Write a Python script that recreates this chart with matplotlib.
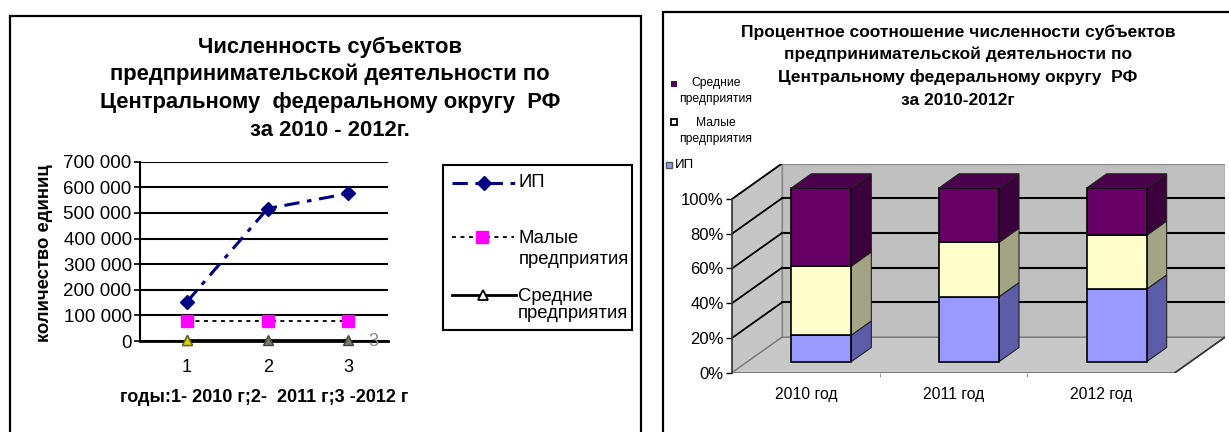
import matplotlib
matplotlib.use("Agg")
import matplotlib.pyplot as plt
from matplotlib.patches import Rectangle, Polygon

plt.rcParams['font.family'] = ['Liberation Sans', 'DejaVu Sans']

# ---- left chart data: counts of entities by year ----
year_idx = [1, 2, 3]
ip_counts = [152500, 517000, 576000]
small_counts = [77000, 77000, 77000]
medium_counts = [3000, 3000, 3000]
line_names = ['ИП', 'Малые\nпредприятия', 'Средние\nпредприятия']
count_ticks = [0, 100000, 200000, 300000, 400000, 500000, 600000, 700000]
count_tick_labels = ['0', '100 000', '200 000', '300 000', '400 000',
                     '500 000', '600 000', '700 000']

# ---- right chart data: percent shares ----
year_labels = ['2010 год', '2011 год', '2012 год']
ip_share = [15.3, 37.4, 41.8]
small_share = [39.7, 31.3, 31.0]
medium_share = [45.0, 31.3, 27.2]
share_names = ['ИП', 'Малые\nпредприятия', 'Средние\nпредприятия']
pct_ticks = [0, 20, 40, 60, 80, 100]
pct_tick_labels = ['0%', '20%', '40%', '60%', '80%', '100%']

left_title = ['Численность субъектов', 'предпринимательской деятельности по',
              'Центральному  федеральному округу  РФ', 'за 2010 - 2012г.']
right_title = ['Процентное соотношение численности субъектов',
               'предпринимательской деятельности по',
               'Центральному федеральному округу  РФ', 'за 2010-2012г']

W, H = 1229, 432
fig = plt.figure(figsize=(W / 100, H / 100), dpi=100)
fig.patch.set_facecolor('white')


def fx(x):
    return x / W


def fy(y):
    return 1 - y / H


# outer frames
fig.add_artist(Rectangle((fx(10), fy(445)), fx(641) - fx(10), fy(16) - fy(445),
                         transform=fig.transFigure, fill=False, lw=1.6, ec='black'))
fig.add_artist(Rectangle((fx(663), fy(445)), fx(1240) - fx(663), fy(12) - fy(445),
                         transform=fig.transFigure, fill=False, lw=1.6, ec='black'))

# ================= left chart =================
ax1 = fig.add_axes([fx(140), fy(341), (388 - 140) / W, (341 - 161.7) / H])
ax1.set_xlim(0.42, 3.49)
ax1.set_ylim(0, 700000)
ax1.set_yticks(count_ticks)
ax1.set_yticklabels(count_tick_labels)
ax1.set_xticks(year_idx)
ax1.set_xticklabels([str(i) for i in year_idx])
ax1.yaxis.grid(True, color='black', lw=1.5)
ax1.set_axisbelow(True)
for s in ['top', 'right']:
    ax1.spines[s].set_visible(False)
ax1.spines['left'].set_linewidth(1.5)
ax1.spines['bottom'].set_linewidth(2)
ax1.tick_params(axis='y', length=4, width=1.2, labelsize=13.5, pad=2)
ax1.tick_params(axis='x', length=0, labelsize=13, pad=13)

ip_style = dict(color='#000080', ls=(0, (5, 2.5, 1.5, 2.5)), lw=2.2)
small_style = dict(color='black', ls=(0, (2.2, 2.5)), lw=1.3)
med_style = dict(color='black', ls='-', lw=2)

ax1.plot(year_idx, ip_counts, marker='D', ms=7, mfc='#000080', mec='#000080',
         clip_on=False, zorder=5, **ip_style)
ax1.plot(year_idx, small_counts, marker='s', ms=8, mfc='#ff00ff', mec='#ff00ff',
         clip_on=False, zorder=5, **small_style)
ax1.plot(year_idx, medium_counts, marker='^', ms=7, mfc='#7a7a6a', mec='#404040',
         clip_on=False, zorder=5, **med_style)
ax1.plot(year_idx[:1], medium_counts[:1], marker='^', ms=7, mfc='#d8d000',
         mec='#606020', ls='none', clip_on=False, zorder=6)
ax1.text(3.25, 0, '3', color='#8a8a8a', fontsize=13, va='center', ha='left')

for k, line in enumerate(left_title):
    fig.text(fx(330), fy(47 + 27.7 * k), line, ha='center', va='center',
             fontsize=15.8, fontweight='bold')
fig.text(fx(45), fy(253), 'количество единиц', rotation=90, ha='center', va='center',
         fontsize=13.3, fontweight='bold')
fig.text(fx(264), fy(398), 'годы:1- 2010 г;2-  2011 г;3 -2012 г', ha='center',
         va='center', fontsize=13, fontweight='bold')

# legend box for left chart
axl = fig.add_axes([fx(443), fy(330), (632 - 443) / W, (330 - 165) / H])
axl.set_xlim(443, 632)
axl.set_ylim(330, 165)
axl.set_xticks([])
axl.set_yticks([])
for s in axl.spines.values():
    s.set_linewidth(1.5)
axl.plot([452, 516], [183, 183], **ip_style)
axl.plot([484], [183], marker='D', ms=7, color='#000080')
axl.text(518, 183, line_names[0], va='center', fontsize=13.3)
axl.plot([452, 514], [237, 237], **small_style)
axl.plot([482], [237], marker='s', ms=8, color='#ff00ff')
axl.text(519, 249, line_names[1], va='center', fontsize=13.3, linespacing=1.35)
axl.plot([452, 516], [295, 295], **med_style)
axl.plot([483], [295], marker='^', ms=7, mfc='white', mec='black', mew=1.3)
axl.text(518, 305, line_names[2], va='center', fontsize=13.3, linespacing=1.05)

# ================= right chart (pseudo 3D stacked 100% bars) =================
unit_px = 443 / 3.0
pct_px = 173.7 / 100.0
dx = 50 / unit_px
dy = 35.5 / pct_px
ax2 = fig.add_axes([fx(732), fy(372.7), (3 + dx) * unit_px / W, (100 + dy) * pct_px / H])
ax2.set_xlim(0, 3 + dx)
ax2.set_ylim(0, 100 + dy)
for s in ['top', 'right', 'bottom']:
    ax2.spines[s].set_visible(False)
ax2.spines['left'].set_bounds(0, 100)
ax2.spines['left'].set_linewidth(1.2)
ax2.spines['left'].set_color('#333333')
ax2.set_yticks(pct_ticks)
ax2.set_yticklabels(pct_tick_labels)
ax2.set_xticks([i + 0.5 for i in range(len(year_labels))])
ax2.set_xticklabels(year_labels)
ax2.set_xticks([1, 2], minor=True)
ax2.tick_params(axis='y', length=4, width=1, labelsize=12, pad=2)
ax2.tick_params(axis='x', which='major', length=0, labelsize=11.3, pad=10)
ax2.tick_params(axis='x', which='minor', length=3, color='#888888')
ax2.patch.set_alpha(0)

wall = '#c0c0c0'
ax2.add_patch(Polygon([(dx, dy), (3 + dx, dy), (3 + dx, 100 + dy), (dx, 100 + dy)],
                      closed=True, fc=wall, ec='#8c8c8c', lw=1, zorder=1))
ax2.add_patch(Polygon([(0, 0), (dx, dy), (dx, 100 + dy), (0, 100)],
                      closed=True, fc='#c6c6c6', ec='#8c8c8c', lw=1, zorder=1))
ax2.add_patch(Polygon([(0, 0), (3, 0), (3 + dx, dy), (dx, dy)],
                      closed=True, fc='#c8c8c8', ec='#7a7a7a', lw=1, zorder=1))
for v in pct_ticks[1:-1]:
    ax2.plot([dx, 3 + dx], [v + dy, v + dy], color='black', lw=1.5, zorder=2)
for v in pct_ticks[1:]:
    ax2.plot([0, dx], [v, v + dy], color='black', lw=1.3, zorder=2)
ax2.plot([3, 3 + dx], [0, dy], color='#333333', lw=1.2, zorder=2)

front_c = ['#9999ff', '#ffffcc', '#660066']
side_c = ['#5c5ca8', '#a3a385', '#3c003c']
top_c = ['#7a7acc', '#ccccaa', '#4a004a']
bw = 60 / unit_px
f = 0.31
d = 0.4
for i in range(len(year_labels)):
    vals = [ip_share[i], small_share[i], medium_share[i]]
    x0 = i + 0.5 - bw / 2 + f * dx
    x1 = x0 + bw
    bottom = 0.0
    for k, v in enumerate(vals):
        b = bottom + f * dy
        t = bottom + v + f * dy
        ax2.add_patch(Polygon([(x1, b), (x1 + d * dx, b + d * dy), (x1 + d * dx, t + d * dy), (x1, t)],
                              closed=True, fc=side_c[k], ec='#222222', lw=0.8, zorder=3))
        ax2.add_patch(Rectangle((x0, b), bw, v, fc=front_c[k], ec='black', lw=1.2, zorder=4))
        bottom += v
    t = bottom + f * dy
    ax2.add_patch(Polygon([(x0, t), (x1, t), (x1 + d * dx, t + d * dy), (x0 + d * dx, t + d * dy)],
                          closed=True, fc=top_c[2], ec='#222222', lw=0.8, zorder=4))

for k, line in enumerate(right_title):
    fig.text(fx(958), fy(32 + 22.7 * k), line, ha='center', va='center',
             fontsize=12.5, fontweight='bold')

# legend for right chart
fig.patches.append(Rectangle((fx(671), fy(85.5)), 4.5 / W, 4.5 / H, transform=fig.transFigure,
                             fc='#4a0a4a', ec='#4a0a4a', lw=0.8))
fig.text(fx(716), fy(91), share_names[2], ha='center', va='center', fontsize=8.7, linespacing=1.4)
fig.patches.append(Rectangle((fx(670.5), fy(125)), 6 / W, 6 / H, transform=fig.transFigure,
                             fc='white', ec='black', lw=1.3))
fig.text(fx(716), fy(131), share_names[1], ha='center', va='center', fontsize=8.7, linespacing=1.4)
fig.patches.append(Rectangle((fx(666), fy(168)), 6 / W, 6 / H, transform=fig.transFigure,
                             fc='#9999ff', ec='#555555', lw=1))
fig.text(fx(675), fy(165), share_names[0], ha='left', va='center', fontsize=9.5)

fig.savefig('out.png', dpi=100)
